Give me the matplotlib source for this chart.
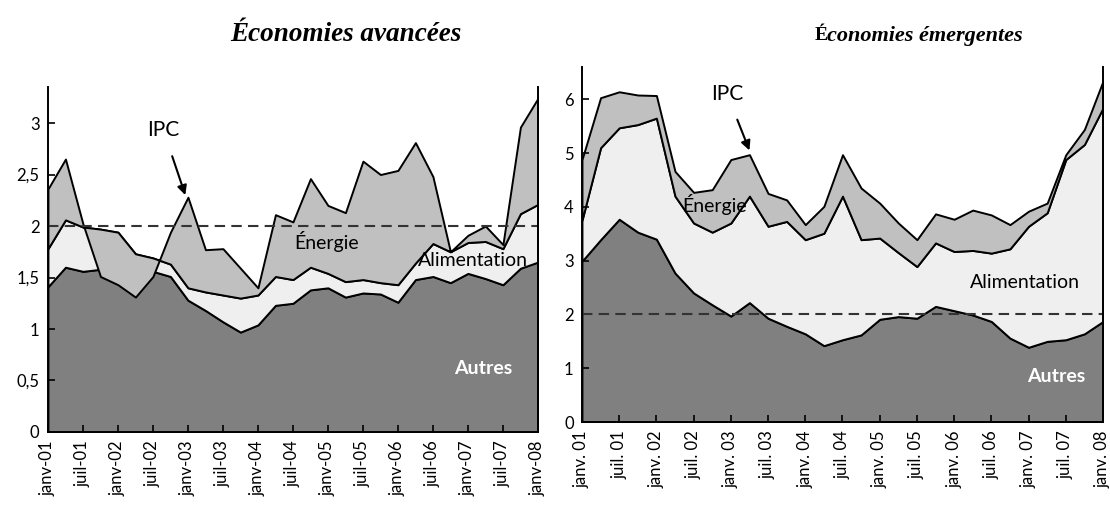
import numpy as np
import matplotlib.pyplot as plt

# quarterly points, janv-01 .. janv-08
n_q = 29
ticks_left = ["janv-01", "juil-01", "janv-02", "juil-02", "janv-03", "juil-03", "janv-04", "juil-04",
              "janv-05", "juil-05", "janv-06", "juil-06", "janv-07", "juil-07", "janv-08"]
ticks_right = ["janv. 01", "juil. 01", "janv. 02", "juil. 02", "janv. 03", "juil. 03", "janv. 04", "juil. 04",
               "janv. 05", "juil. 05", "janv. 06", "juil. 06", "janv. 07", "juil. 07", "janv. 08"]

# Économies avancées : contribution levels
adv_autres = [1.41, 1.60, 1.56, 1.58, 1.56, 1.55, 1.56, 1.51, 1.28, 1.18, 1.07, 0.97, 1.04, 1.23, 1.25,
              1.38, 1.40, 1.31, 1.35, 1.34, 1.26, 1.48, 1.51, 1.45, 1.54, 1.49, 1.43, 1.59, 1.65]
adv_alim_top = [1.78, 2.06, 1.99, 1.97, 1.94, 1.73, 1.69, 1.63, 1.40, 1.36, 1.33, 1.30, 1.33, 1.51, 1.48,
                1.60, 1.54, 1.46, 1.48, 1.45, 1.43, 1.64, 1.83, 1.75, 1.84, 1.85, 1.78, 2.12, 2.21]
adv_ipc = [2.36, 2.65, 2.02, 1.51, 1.43, 1.31, 1.51, 1.94, 2.28, 1.77, 1.78, 1.59, 1.40, 2.11, 2.04,
           2.46, 2.20, 2.13, 2.63, 2.50, 2.54, 2.81, 2.48, 1.75, 1.91, 2.00, 1.82, 2.96, 3.24]

# Économies émergentes
em_autres = [2.99, 3.39, 3.77, 3.53, 3.40, 2.77, 2.40, 2.18, 1.97, 2.22, 1.93, 1.78, 1.64, 1.42, 1.53,
             1.62, 1.91, 1.96, 1.93, 2.15, 2.07, 1.99, 1.87, 1.56, 1.39, 1.50, 1.53, 1.64, 1.87]
em_alim_top = [3.75, 5.10, 5.47, 5.53, 5.65, 4.20, 3.70, 3.53, 3.70, 4.20, 3.64, 3.73, 3.39, 3.51, 4.20,
               3.39, 3.42, 3.15, 2.89, 3.33, 3.17, 3.19, 3.14, 3.22, 3.64, 3.89, 4.88, 5.16, 5.84]
em_ipc = [4.88, 6.03, 6.14, 6.08, 6.07, 4.66, 4.27, 4.32, 4.88, 4.97, 4.25, 4.13, 3.67, 4.01, 4.97,
          4.35, 4.07, 3.70, 3.39, 3.87, 3.77, 3.94, 3.85, 3.67, 3.92, 4.07, 4.97, 5.44, 6.34]

C_AUTRES = "#808080"
C_ALIM = "#efefef"
C_ENERGIE = "#c0c0c0"
plt.rcParams['font.family'] = ["Lato", "DejaVu Sans"]
SERIF = ["Liberation Serif", "DejaVu Serif"]


def stacked(ax, autres, alim_top, ipc, ymax, yticks, ylabels, xlabels):
    x = np.arange(n_q)
    ax.fill_between(x, 0, autres, facecolor=C_AUTRES, edgecolor="black", linewidth=1.4)
    ax.fill_between(x, autres, alim_top, facecolor=C_ALIM, edgecolor="black", linewidth=1.4)
    ax.fill_between(x, alim_top, ipc, facecolor=C_ENERGIE, edgecolor="black", linewidth=1.4)
    ax.axhline(2, color="#333333", linestyle=(0, (5, 3)), linewidth=1.5)
    ax.set_xlim(0, n_q - 1)
    ax.set_ylim(0, ymax)
    ax.set_xticks(np.arange(0, n_q, 2))
    ax.set_xticklabels(xlabels, rotation=90, fontsize=12)
    ax.set_yticks(yticks)
    ax.set_yticklabels(ylabels, fontsize=12)
    ax.tick_params(direction="in", length=5, width=1.2, pad=6)
    ax.spines["top"].set_visible(False)
    for s in ["left", "bottom", "right"]:
        ax.spines[s].set_linewidth(1.4)


fig = plt.figure(figsize=(11.1, 5.09), dpi=100)
ax1 = fig.add_axes([0.0432, 0.1513, 0.4414, 0.6778])
ax2 = fig.add_axes([0.5243, 0.1709, 0.4694, 0.6974])

stacked(ax1, adv_autres, adv_alim_top, adv_ipc, 3.35,
        [0, 0.5, 1, 1.5, 2, 2.5, 3], ["0", "0,5", "1", "1,5", "2", "2,5", "3"], ticks_left)
stacked(ax2, em_autres, em_alim_top, em_ipc, 6.6,
        [0, 1, 2, 3, 4, 5, 6], ["0", "1", "2", "3", "4", "5", "6"], ticks_right)

# labels, left panel
ax1.annotate("IPC", xy=(7.85, 2.30), xytext=(6.6, 2.93), fontsize=15, ha="center", va="center",
             arrowprops=dict(arrowstyle="-|>", color="black", lw=1.5, mutation_scale=14,
                             shrinkA=10, shrinkB=0))
ax1.text(15.9, 1.85, "Énergie", fontsize=14, ha="center", va="center")
ax1.text(24.3, 1.67, "Alimentation", fontsize=14, ha="center", va="center")
ax1.text(24.9, 0.62, "Autres", fontsize=14, ha="center", va="center", color="white", fontweight="bold")

# labels, right panel
ax2.annotate("IPC", xy=(9.0, 5.05), xytext=(7.8, 6.1), fontsize=15, ha="center", va="center",
             arrowprops=dict(arrowstyle="-|>", color="black", lw=1.5, mutation_scale=14,
                             shrinkA=10, shrinkB=0))
ax2.text(7.1, 4.05, "Énergie", fontsize=14, ha="center", va="center")
ax2.text(23.8, 2.6, "Alimentation", fontsize=14, ha="center", va="center")
ax2.text(25.5, 0.85, "Autres", fontsize=14, ha="center", va="center", color="white", fontweight="bold")

# titles
fig.text(0.312, 0.933, "Économies avancées", fontsize=19.5, fontweight="bold", fontstyle="italic",
         family=SERIF, ha="center", va="center")
t_rest = fig.text(1023 / 1110, 0.93, "conomies émergentes", fontsize=16, fontweight="bold",
                  fontstyle="italic", family=SERIF, ha="right", va="center")
fig.canvas.draw()
bb = t_rest.get_window_extent()
fig.text(bb.x0 / fig.bbox.width, 0.93, "É", fontsize=14, fontweight="bold",
         family=SERIF, ha="right", va="center")

fig.savefig("out.png", dpi=100)
